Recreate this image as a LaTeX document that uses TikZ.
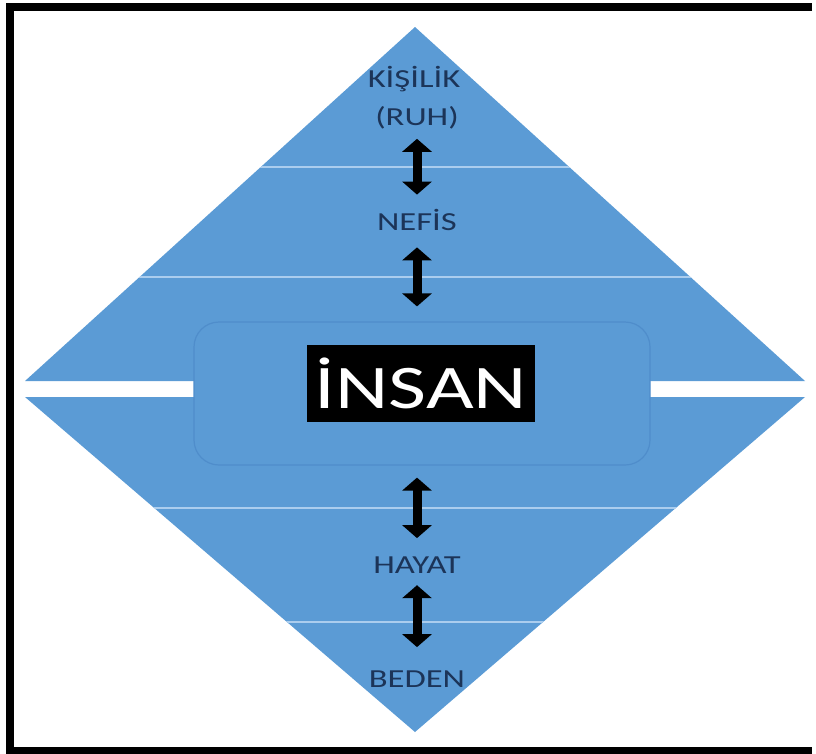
\documentclass[tikz,border=0pt]{standalone}
\usepackage{fontspec}
\setmainfont{Carlito}
\newfontfamily\genis[FakeStretch=1.33]{Carlito}
\usetikzlibrary{arrows.meta}
\definecolor{mavi}{HTML}{5B9BD5}
\definecolor{acik}{HTML}{ABCDEE}
\definecolor{lacivert}{HTML}{1C3458}
\definecolor{kenar}{HTML}{4F8DCB}
\tikzset{
  etiket/.style={text=lacivert, font=\genis\fontsize{26}{30}\selectfont, inner sep=0pt, anchor=base},
  ok/.style={line width=9pt, {Triangle[width=29pt,length=13pt]}-{Triangle[width=29pt,length=13pt]}},
  cizgi/.style={acik, line width=2pt}
}

\begin{document}
\begin{tikzpicture}[x=1pt,y=-1pt]
\useasboundingbox (0,0) rectangle (816,753);
\draw[line width=8pt] (812,7) -- (10,7) -- (10,751) -- (812,751);
\fill[mavi] (415,27) -- (805,381) -- (25,381) -- cycle;
\fill[mavi] (415,732) -- (805,397) -- (25,397) -- cycle;
\begin{scope}
\clip (415,27) -- (805,381) -- (25,381) -- cycle;
\draw[cizgi] (0,167) -- (816,167) (0,277) -- (816,277);
\end{scope}
\begin{scope}
\clip (415,732) -- (805,397) -- (25,397) -- cycle;
\draw[cizgi] (0,508) -- (816,508) (0,622) -- (816,622);
\end{scope}
\node[draw=kenar, fill=mavi, line width=1.2pt, rounded corners=25pt, minimum width=456pt, minimum height=143pt] (kutu) at (422,393.5) {};
\node[fill=black, text=white, font=\genis\fontsize{62}{70}\selectfont, minimum width=228pt, minimum height=77pt, inner sep=0pt] (insan) at (421,383.5) {İNSAN};
\node[etiket] (kisilik) at (414,87) {KİŞİLİK};
\node[etiket] (ruh) at (417,125) {(RUH)};
\node[etiket] (nefis) at (417,230) {NEFİS};
\node[etiket] (hayat) at (417,573) {HAYAT};
\node[etiket] (beden) at (417,687) {BEDEN};
\draw[ok, shorten <=10pt, shorten >=14pt] (ruh.south) -- (nefis.north);
\draw[ok, shorten <=17pt, shorten >=15pt] (nefis.south) -- (kutu.north -| nefis.south);
\draw[ok, shorten <=12pt, shorten >=18pt] (kutu.south -| hayat.north) -- (hayat.north);
\draw[ok, shorten <=12pt, shorten >=23pt] (hayat.south) -- (beden.north);
\end{tikzpicture}
\end{document}
